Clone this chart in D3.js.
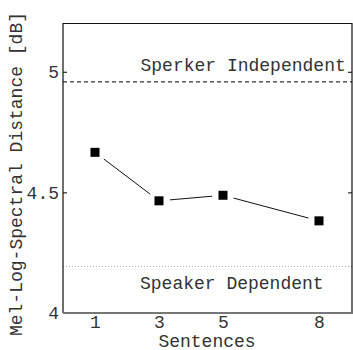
<!DOCTYPE html>
<html lang="en">
<head>
  <meta charset="UTF-8" />
  <title>Mel-Log-Spectral Distance vs Sentences</title>
  <style>
    body {
      margin: 0;
      background: #fff;
    }
    svg text {
      font-family: 'Liberation Mono', 'DejaVu Sans Mono', monospace;
      font-size: 18px;
      fill: #333;
    }
  </style>
</head>
<body>
  <div id="chart"></div>

  <script src="https://d3js.org/d3.v7.min.js"></script>
  <script>
    // data
    const sentences = [1, 3, 5, 8];
    const distance = [4.666, 4.465, 4.488, 4.382];
    const independentLevel = 4.958;
    const dependentLevel = 4.193;
    const yTicks = [4, 4.5, 5];
    const yTickLabels = ["4", "4.5", "5"];

    const width = 353, height = 350;
    const plotLeft = 63, plotRight = 352, plotTop = 23.5, plotBottom = 313;

    const svg = d3.select("#chart").append("svg")
      .attr("width", width)
      .attr("height", height);

    const x = d3.scaleLinear().domain([0, 9]).range([plotLeft, plotLeft + 288]);
    const y = d3.scaleLinear().domain([4, 5.2]).range([plotBottom, plotTop]);

    // reference lines
    svg.append("line")
      .attr("x1", plotLeft).attr("x2", plotRight)
      .attr("y1", y(independentLevel)).attr("y2", y(independentLevel))
      .style("stroke", "#000")
      .style("stroke-width", 1)
      .style("stroke-dasharray", "4,3");

    svg.append("line")
      .attr("x1", plotLeft).attr("x2", plotRight)
      .attr("y1", y(dependentLevel)).attr("y2", y(dependentLevel))
      .style("stroke", "#aaa")
      .style("stroke-width", 1)
      .style("stroke-dasharray", "1,2");

    svg.append("text")
      .attr("x", 140.5).attr("y", 70.5)
      .text("Sperker Independent");

    svg.append("text")
      .attr("x", 140).attr("y", 288.5)
      .text("Speaker Dependent");

    // axes
    svg.append("g")
      .attr("transform", `translate(${plotLeft},0)`)
      .call(d3.axisLeft(y).tickValues(yTicks)
        .tickFormat((d, i) => yTickLabels[i])
        .tickSizeInner(-4).tickSizeOuter(0).tickPadding(4))
      .call(g => g.select(".domain").remove())
      .call(g => g.selectAll("text").style("font-size", "18px")
        .style("font-family", "'Liberation Mono', monospace").attr("fill", "#333"));

    svg.append("g")
      .attr("transform", `translate(${plotRight},0)`)
      .call(d3.axisRight(y).tickValues(yTicks).tickFormat("")
        .tickSizeInner(-4).tickSizeOuter(0))
      .call(g => g.select(".domain").remove());

    svg.append("g")
      .attr("transform", `translate(0,${plotBottom})`)
      .call(d3.axisBottom(x).tickValues(sentences).tickFormat(d3.format("d"))
        .tickSize(0).tickPadding(2))
      .call(g => g.select(".domain").remove())
      .call(g => g.selectAll("text").style("font-size", "18px")
        .style("font-family", "'Liberation Mono', monospace").attr("fill", "#333"));

    // frame
    svg.append("path")
      .attr("d", `M${plotLeft},${plotBottom}V${plotTop}H${plotRight}V${plotBottom}`)
      .style("fill", "none")
      .style("stroke", "#111")
      .style("stroke-width", 1.2);

    svg.append("line")
      .attr("x1", plotLeft).attr("x2", plotRight + 1)
      .attr("y1", plotBottom).attr("y2", plotBottom)
      .style("stroke", "#777")
      .style("stroke-width", 2);

    // axis titles
    svg.append("text")
      .attr("x", 207).attr("y", 347)
      .attr("text-anchor", "middle")
      .text("Sentences");

    svg.append("text")
      .attr("transform", "translate(22,174) rotate(-90)")
      .attr("text-anchor", "middle")
      .text("Mel-Log-Spectral Distance [dB]");

    // connecting segments with a gap around each marker
    const pts = sentences.map((s, i) => [x(s), y(distance[i])]);
    const gap = 11;
    d3.pairs(pts).forEach(([a, b]) => {
      const dx = b[0] - a[0], dy = b[1] - a[1];
      const len = Math.hypot(dx, dy);
      const ux = dx / len, uy = dy / len;
      svg.append("line")
        .attr("x1", a[0] + ux * gap).attr("y1", a[1] + uy * gap)
        .attr("x2", b[0] - ux * gap).attr("y2", b[1] - uy * gap)
        .style("stroke", "#111")
        .style("stroke-width", 1);
    });

    svg.selectAll(".marker")
      .data(sentences)
      .enter()
      .append("rect")
      .attr("class", "marker")
      .attr("x", d => x(d) - 4.5)
      .attr("y", (d, i) => y(distance[i]) - 4.5)
      .attr("width", 9)
      .attr("height", 9)
      .style("fill", "#000");
  </script>
</body>
</html>
